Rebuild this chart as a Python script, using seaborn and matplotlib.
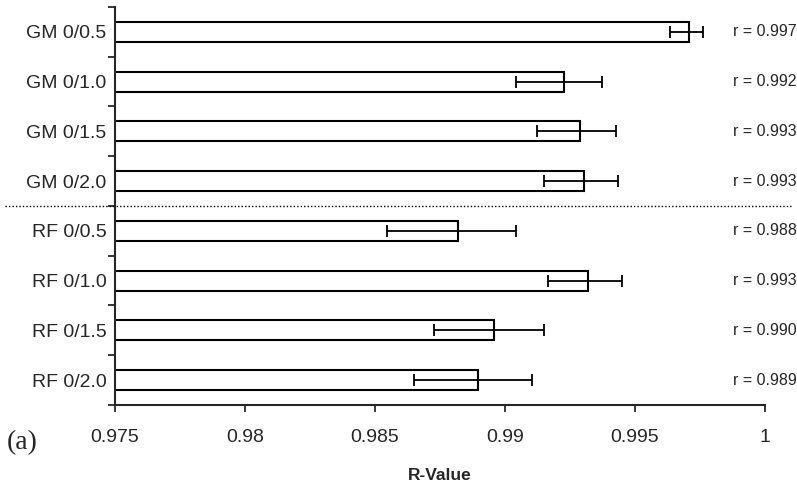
import numpy as np
import pandas as pd
import seaborn as sns
import matplotlib.pyplot as plt

sns.set_style("ticks")
plt.rcParams['font.family'] = ['Liberation Sans', 'DejaVu Sans']

labels = ["GM 0/0.5", "GM 0/1.0", "GM 0/1.5", "GM 0/2.0",
          "RF 0/0.5", "RF 0/1.0", "RF 0/1.5", "RF 0/2.0"]
rvalue = [0.99708, 0.99227, 0.99288, 0.99304, 0.98819, 0.99319, 0.98959, 0.98896]
err_lo = [0.00072, 0.00186, 0.00164, 0.00155, 0.00272, 0.00155, 0.00233, 0.00247]
err_hi = [0.00053, 0.00147, 0.00140, 0.00132, 0.00223, 0.00132, 0.00191, 0.00208]
r_text = ["r = 0.997", "r = 0.992", "r = 0.993", "r = 0.993",
          "r = 0.988", "r = 0.993", "r = 0.990", "r = 0.989"]

df = pd.DataFrame({"label": labels, "r": rvalue})

fig = plt.figure(figsize=(7.97, 4.86), dpi=100)
ax = fig.add_axes([0.1443, 0.1667, 0.8155, 0.8189])

sns.barplot(data=df, x="r", y="label", orient="h", ax=ax, color="white",
            edgecolor="black", linewidth=1.5, width=0.4)
ax.errorbar(rvalue, np.arange(len(labels)), xerr=[err_lo, err_hi], fmt="none",
            ecolor="black", elinewidth=1.3, capsize=4, capthick=1.3)

ax.set_xlim(0.975, 1.0)
ax.set_ylim(len(labels) - 0.5, -0.5)
ax.set_xticks([0.975, 0.98, 0.985, 0.99, 0.995, 1.0])
ax.set_xticklabels(["0.975", "0.98", "0.985", "0.99", "0.995", "1"])
ax.set_yticks(np.arange(len(labels) + 1) - 0.5, minor=False)
ax.set_yticklabels([])
ax.set_yticks(np.arange(len(labels)), minor=True)
ax.set_yticklabels(labels, minor=True)
ax.tick_params(axis="y", which="minor", length=0, labelsize=14, pad=6)
ax.tick_params(axis="y", which="major", length=5, width=1.3)
ax.tick_params(axis="x", length=5, width=1.3, labelsize=14, pad=12)
for s in ["top", "right"]:
    ax.spines[s].set_visible(False)
for s in ["left", "bottom"]:
    ax.spines[s].set_linewidth(1.5)
ax.set_ylabel("")
ax.set_xlabel("R-Value", fontsize=12.5, fontweight="bold", labelpad=16)

for i, t in enumerate(r_text):
    ax.text(1.049, i, t, fontsize=11.5, ha="right", va="center", clip_on=False,
            transform=ax.get_yaxis_transform())

ax.plot([-0.17, 1.04], [3.5, 3.5], transform=ax.get_yaxis_transform(),
        color="black", linestyle=(0, (1, 1.5)), linewidth=1, clip_on=False)

fig.text(0.008, 0.075, "(a)", fontsize=20, family=["Liberation Serif", "DejaVu Serif"])

fig.savefig("out.png", dpi=100)
